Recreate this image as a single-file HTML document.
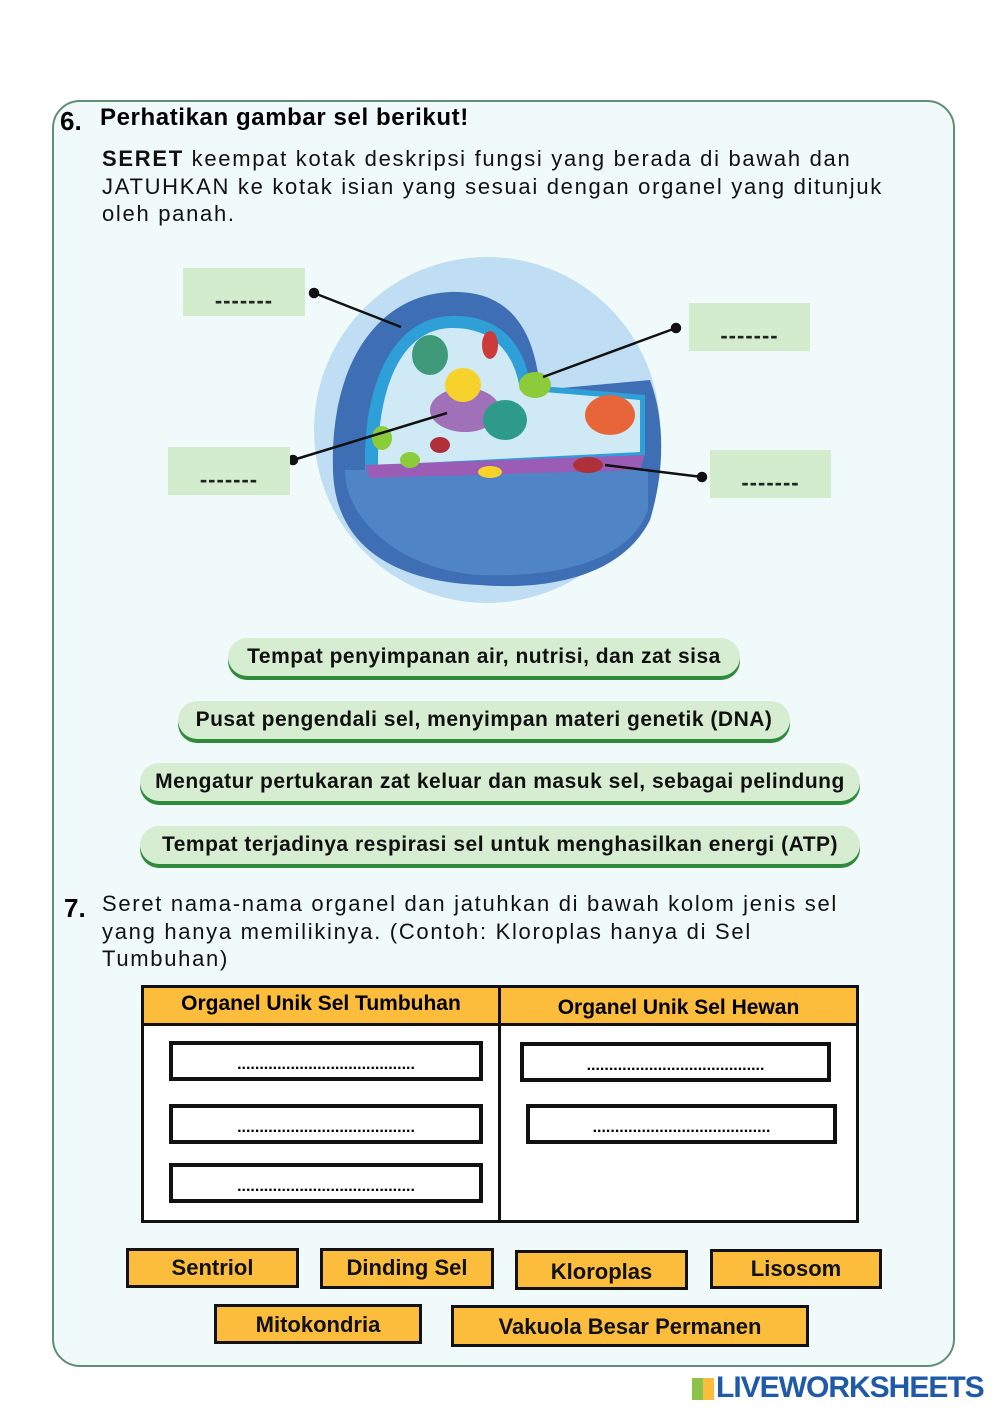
<!DOCTYPE html>
<html><head><meta charset="utf-8"><style>
body{margin:0;width:1000px;height:1414px;background:#fff;position:relative;overflow:hidden;font-family:"Liberation Sans",sans-serif;}
.a{position:absolute;}
.panel{left:52px;top:100px;width:899px;height:1263px;border:2px solid #5f8f74;border-radius:28px;background:#f1fafa;}
.lb{background:#d3ecce;font-weight:bold;font-size:22px;letter-spacing:1px;text-align:center;box-sizing:border-box;padding-top:20px;color:#222;}
.pill{background:#d6edd2;border-radius:20px;box-shadow:0 4px 0 #2f8a3c;font-weight:bold;font-size:21px;text-align:center;line-height:38px;color:#111;letter-spacing:0.5px;white-space:nowrap;}
.ob{background:#fbbd3b;border:3px solid #111;box-sizing:border-box;font-weight:bold;font-size:22px;text-align:center;color:#111;}
.fb{background:#fff;border:4px solid #111;box-sizing:border-box;text-align:center;font-weight:bold;font-size:16px;line-height:40px;overflow:hidden;}
.par{font-size:22px;line-height:27.5px;color:#111;letter-spacing:1.7px;white-space:nowrap;}
</style></head><body>
<div class="a panel"></div>
<div class="a" style="left:60px;top:106px;font-size:26px;font-weight:bold;">6.</div>
<div class="a" style="left:100px;top:104px;font-size:24px;font-weight:bold;letter-spacing:0.6px;">Perhatikan gambar sel berikut!</div>
<div class="a par" style="left:102px;top:145px;"><b>SERET</b> keempat kotak deskripsi fungsi yang berada di bawah dan<br>JATUHKAN ke kotak isian yang sesuai dengan organel yang ditunjuk<br>oleh panah.</div>

<svg class="a" style="left:0;top:0" width="1000" height="700">
<circle cx="487" cy="430" r="173" fill="#c0def3"/>
<path d="M333,470 C330,360 380,295 450,292 C510,290 535,330 540,390 L650,380 C665,420 665,470 650,520 C620,580 540,590 480,585 C400,582 335,550 333,470Z" fill="#3e6fb5"/>
<path d="M345,470 C345,520 400,570 480,575 C560,578 630,560 648,510 L648,470Z" fill="#4f84c6"/>
<path d="M365,460 C365,380 395,318 450,316 C500,314 525,345 530,385 L645,395 L645,455 L365,470Z" fill="#2f9fd8"/>
<path d="M378,460 C378,390 400,330 450,328 C495,327 515,355 520,390 L640,400 L640,452 L378,465Z" fill="#cfeaf5"/>
<path d="M365,465 L645,455 L640,470 L370,478Z" fill="#9a5cb5"/>
<ellipse cx="465" cy="410" rx="35" ry="22" fill="#a070b8"/>
<ellipse cx="463" cy="385" rx="18" ry="17" fill="#f6d22a"/>
<ellipse cx="535" cy="385" rx="16" ry="13" fill="#8ccc3a"/>
<ellipse cx="610" cy="415" rx="25" ry="20" fill="#e8653a"/>
<ellipse cx="505" cy="420" rx="22" ry="20" fill="#2e9a8a"/>
<ellipse cx="430" cy="355" rx="18" ry="20" fill="#3f9a7a"/>
<ellipse cx="490" cy="345" rx="8" ry="14" fill="#cc3a3a"/>
<ellipse cx="588" cy="465" rx="15" ry="8" fill="#b0303a"/>
<ellipse cx="440" cy="445" rx="10" ry="8" fill="#b0303a"/>
<ellipse cx="382" cy="438" rx="10" ry="12" fill="#8ccc3a"/>
<ellipse cx="410" cy="460" rx="10" ry="8" fill="#8ccc3a"/>
<ellipse cx="490" cy="472" rx="12" ry="6" fill="#f6d22a"/>
<g stroke="#111" stroke-width="2.5" fill="#111">
<line x1="314" y1="293" x2="401" y2="327"/><circle cx="314" cy="293" r="4"/>
<line x1="676" y1="328" x2="543" y2="377"/><circle cx="676" cy="328" r="4"/>
<line x1="293" y1="460" x2="447" y2="413"/><circle cx="293" cy="460" r="4"/>
<line x1="702" y1="477" x2="605" y2="465"/><circle cx="702" cy="477" r="4"/>
</g>
</svg>
<div class="a lb" style="left:183px;top:268px;width:122px;height:48px;">-------</div>
<div class="a lb" style="left:689px;top:303px;width:121px;height:48px;">-------</div>
<div class="a lb" style="left:168px;top:447px;width:122px;height:48px;">-------</div>
<div class="a lb" style="left:710px;top:450px;width:121px;height:48px;">-------</div>

<div class="a pill" style="left:228px;top:638px;width:512px;">Tempat penyimpanan air, nutrisi, dan zat sisa</div>
<div class="a pill" style="left:178px;top:701px;width:612px;">Pusat pengendali sel, menyimpan materi genetik (DNA)</div>
<div class="a pill" style="left:140px;top:763px;width:720px;">Mengatur pertukaran zat keluar dan masuk sel, sebagai pelindung</div>
<div class="a pill" style="left:140px;top:826px;width:720px;">Tempat terjadinya respirasi sel untuk menghasilkan energi (ATP)</div>

<div class="a" style="left:64px;top:893px;font-size:26px;font-weight:bold;">7.</div>
<div class="a par" style="left:102px;top:890px;">Seret nama-nama organel dan jatuhkan di bawah kolom jenis sel<br>yang hanya memilikinya. (Contoh: Kloroplas hanya di Sel<br>Tumbuhan)</div>

<div class="a" style="left:141px;top:985px;width:718px;height:238px;border:3px solid #111;box-sizing:border-box;background:#fff;"></div>
<div class="a" style="left:144px;top:988px;width:712px;height:35px;background:#fbbd3b;border-bottom:3px solid #111;"></div>
<div class="a" style="left:498px;top:985px;width:3px;height:238px;background:#111;"></div>
<div class="a" style="left:144px;top:988px;width:354px;text-align:center;font-weight:bold;font-size:21px;line-height:32px;">Organel Unik Sel Tumbuhan</div>
<div class="a" style="left:501px;top:992px;width:355px;text-align:center;font-weight:bold;font-size:21px;line-height:32px;">Organel Unik Sel Hewan</div>
<div class="a fb" style="left:169px;top:1041px;width:314px;height:40px;">........................................</div>
<div class="a fb" style="left:169px;top:1104px;width:314px;height:40px;">........................................</div>
<div class="a fb" style="left:169px;top:1163px;width:314px;height:40px;">........................................</div>
<div class="a fb" style="left:520px;top:1042px;width:311px;height:40px;">........................................</div>
<div class="a fb" style="left:526px;top:1104px;width:311px;height:40px;">........................................</div>

<div class="a ob" style="left:126px;top:1248px;width:173px;height:40px;line-height:34px;">Sentriol</div>
<div class="a ob" style="left:320px;top:1248px;width:174px;height:41px;line-height:34px;">Dinding Sel</div>
<div class="a ob" style="left:515px;top:1250px;width:173px;height:40px;line-height:38px;">Kloroplas</div>
<div class="a ob" style="left:710px;top:1249px;width:172px;height:40px;line-height:34px;">Lisosom</div>
<div class="a ob" style="left:214px;top:1304px;width:208px;height:40px;line-height:36px;">Mitokondria</div>
<div class="a ob" style="left:451px;top:1305px;width:358px;height:42px;line-height:38px;">Vakuola Besar Permanen</div>

<div class="a" style="left:692px;top:1378px;width:22px;height:22px;background:linear-gradient(90deg,#8bc34a 50%,#fbbd3b 50%);"></div>
<div class="a" style="left:716px;top:1371px;font-size:30px;font-weight:bold;color:#1e5aa8;letter-spacing:-1px;">LIVEWORKSHEETS</div>
</body></html>
